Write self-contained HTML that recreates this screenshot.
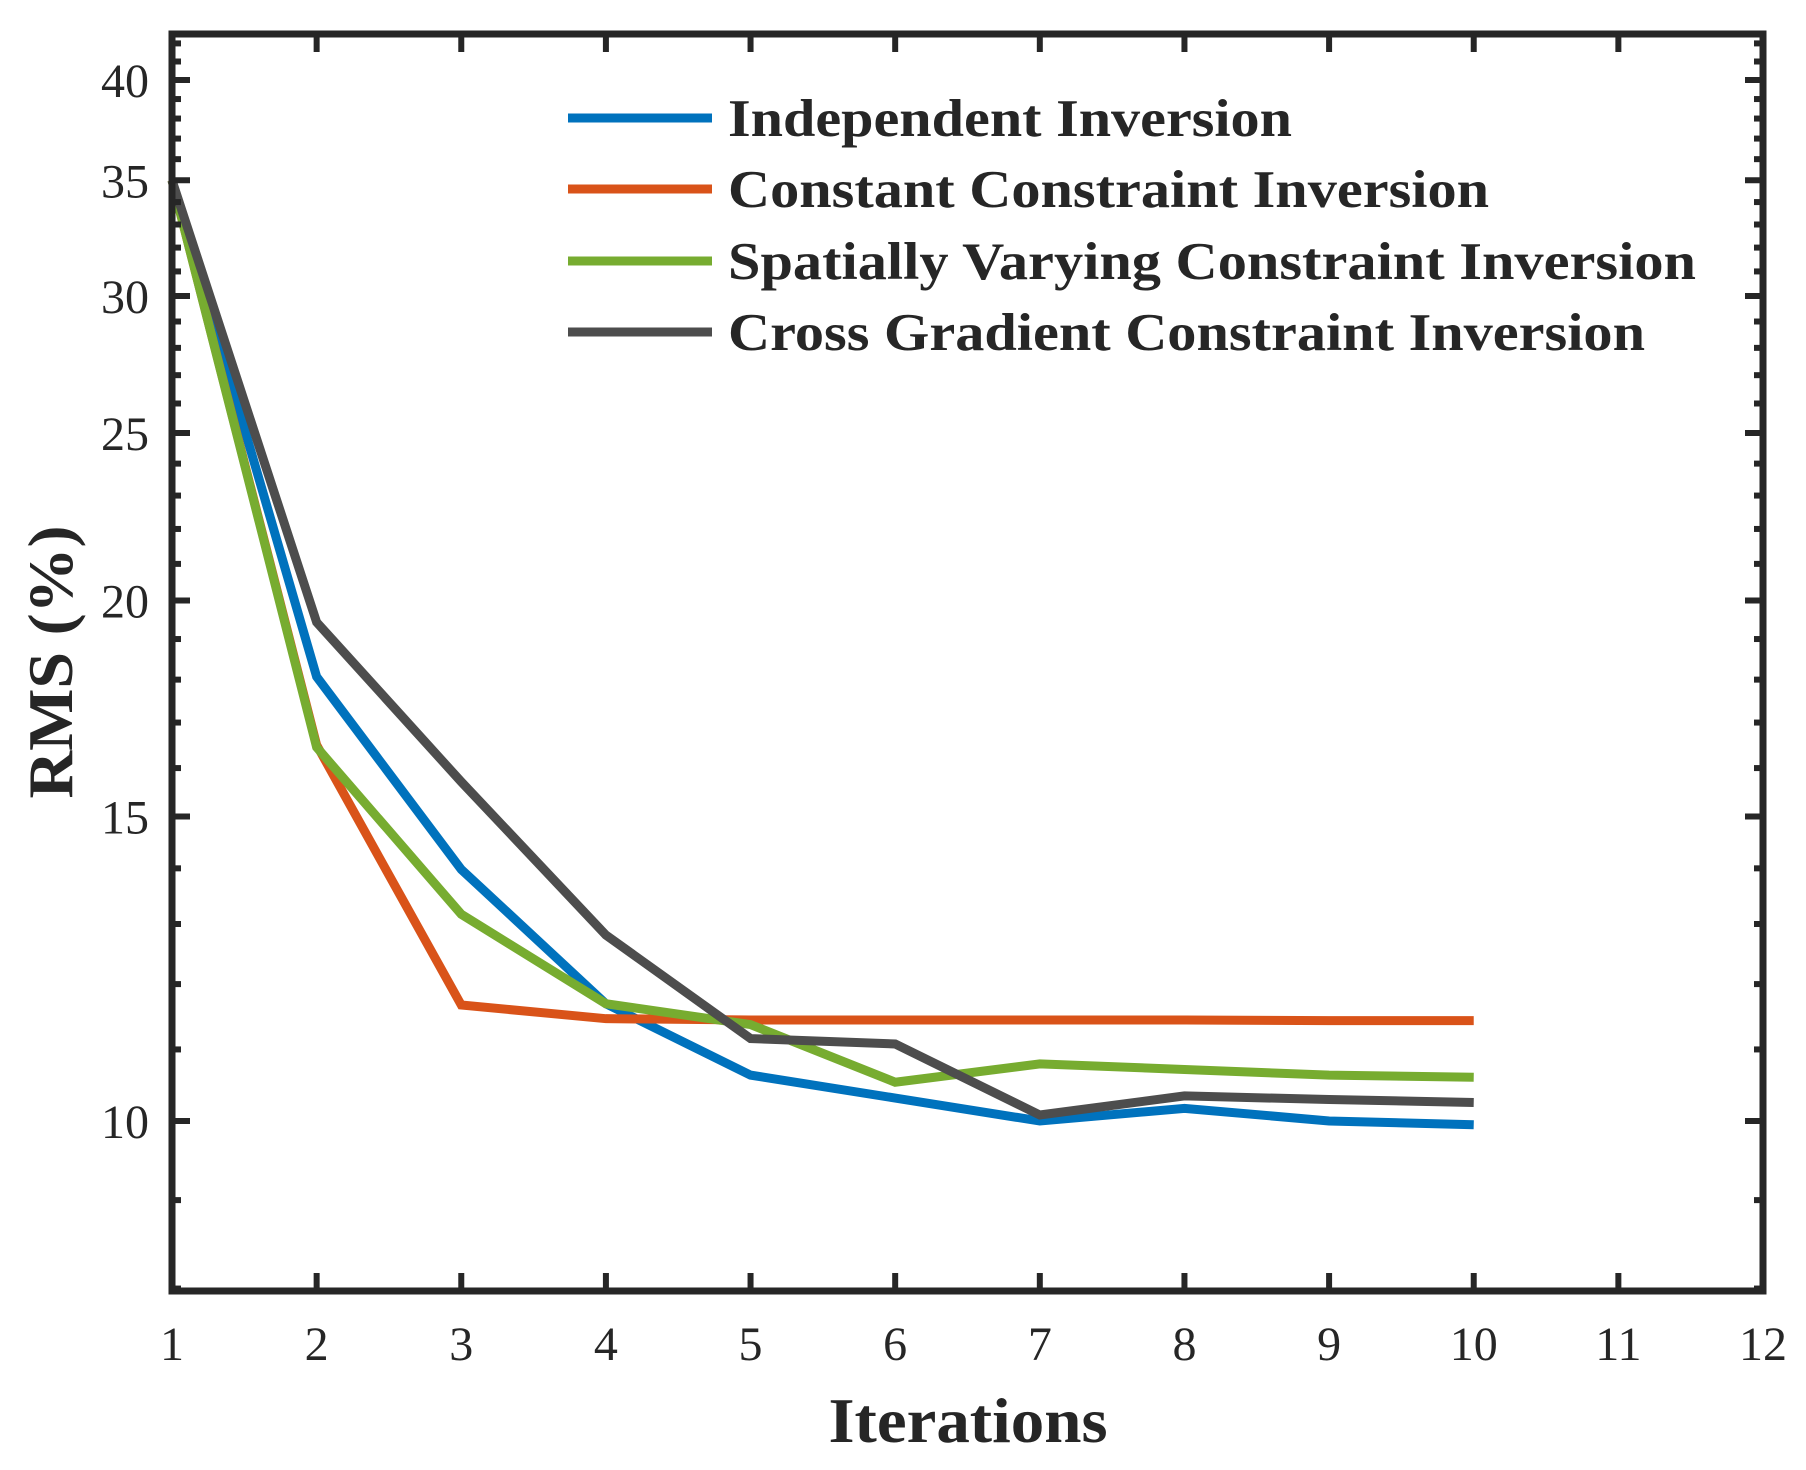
<!DOCTYPE html>
<html><head><meta charset="utf-8"><style>
html,body{margin:0;padding:0;background:#fff;}
svg{display:block;}
text{font-family:"Liberation Serif",serif;fill:#262626;}
</style></head><body>
<svg id="chart" width="1806" height="1470" viewBox="0 0 1806 1470">
<g id="series"></g>
<g id="axes"></g>
<g id="legend"></g>
<text x="968" y="1442" text-anchor="middle" font-size="64" font-weight="bold" textLength="279" lengthAdjust="spacingAndGlyphs">Iterations</text>
<text transform="translate(72,662) rotate(-90)" text-anchor="middle" font-size="64" font-weight="bold" textLength="273" lengthAdjust="spacingAndGlyphs">RMS (%)</text>
</svg>
<script>
const iterations = [1,2,3,4,5,6,7,8,9,10];
const seriesNames = ["Independent Inversion","Constant Constraint Inversion","Spatially Varying Constraint Inversion","Cross Gradient Constraint Inversion"];
const independent = [35,18.07,13.98,11.69,10.63,10.31,10.0,10.17,10.0,9.95];
const constant = [35,16.5,11.67,11.46,11.44,11.44,11.44,11.44,11.43,11.43];
const spatial = [35,16.45,13.17,11.69,11.37,10.53,10.79,10.71,10.63,10.6];
const crossGrad = [35,19.43,15.71,12.81,11.16,11.08,10.08,10.34,10.29,10.25];
const xTicks = [1,2,3,4,5,6,7,8,9,10,11,12];
const yTicks = [10,15,20,25,30,35,40];
const yMinor = [8,9,10,11,12,13,14,15,16,17,18,19,20,21,22,23,24,25,26,27,28,29,30,31,32,33,34,35,36,37,38,39,40,41,42];

const NS="http://www.w3.org/2000/svg";
const L=172,R=1763,T=34,B=1291;
const xMin=1,xMax=12;
const y10=1121, decade=1729;
const X=v=>L+(v-xMin)/(xMax-xMin)*(R-L);
const Y=v=>y10-Math.log10(v/10)*decade;
function mk(tag,attrs,parent){const e=document.createElementNS(NS,tag);for(const k in attrs)e.setAttribute(k,attrs[k]);parent.appendChild(e);return e;}
const axes=document.getElementById('axes');
const col="#262626";
xTicks.forEach(t=>{
  const x=X(t);
  const a=mk('line',{x1:x,x2:x,y1:B,y2:B-18,stroke:col,'stroke-width':6},axes);
  
  
  const b=mk('line',{x1:x,x2:x,y1:T,y2:T+18,stroke:col,'stroke-width':6},axes);
  
  
  const tx=mk('text',{x:x,y:1360,'text-anchor':'middle','font-size':48},axes);
  tx.textContent=t;
  
  
});
yMinor.forEach(t=>{
  const y=Y(t); if(y<T+4||y>B-2) return;
  const major=yTicks.includes(t); const len=major?18:9;
  const a=mk('line',{x1:L,x2:L+len,y1:y,y2:y,stroke:col,'stroke-width':6},axes);
  
  
  const b=mk('line',{x1:R,x2:R-len,y1:y,y2:y,stroke:col,'stroke-width':6},axes);
  
  
});
yTicks.forEach(t=>{
  const tx=mk('text',{x:149,y:Y(t)+17,'text-anchor':'end','font-size':48},axes);
  tx.textContent=t;
  
  
});
const frame=mk('rect',{x:L,y:T,width:R-L,height:B-T,fill:'none',stroke:col,'stroke-width':7},axes);


const sg=document.getElementById('series');
const colors=["#0072BD","#D95319","#77AC30","#4D4D4D"];
const data=[independent,constant,spatial,crossGrad];
const names=["series-independent","series-constant","series-spatial","series-cross-gradient"];
data.forEach((d,i)=>{
  const pts=d.map((v,j)=>X(iterations[j])+","+Y(v)).join(" ");
  const p=mk('polyline',{points:pts,fill:'none',stroke:colors[i],'stroke-width':9,'stroke-linejoin':'miter'},sg);
  
  
});
const lg=document.getElementById('legend');
const rowsY=[118,189,261,332];
const legendWidths=[564,761,968,917];
seriesNames.forEach((n,i)=>{
  const g=mk('g',{},lg);
  
  
  mk('line',{x1:568,x2:712,y1:rowsY[i],y2:rowsY[i],stroke:colors[i],'stroke-width':9},g);
  const t=mk('text',{x:728,y:rowsY[i]+18,'font-size':53,'font-weight':'bold',textLength:legendWidths[i],lengthAdjust:'spacingAndGlyphs'},g);
  t.textContent=n;
});
</script>
</body></html>
